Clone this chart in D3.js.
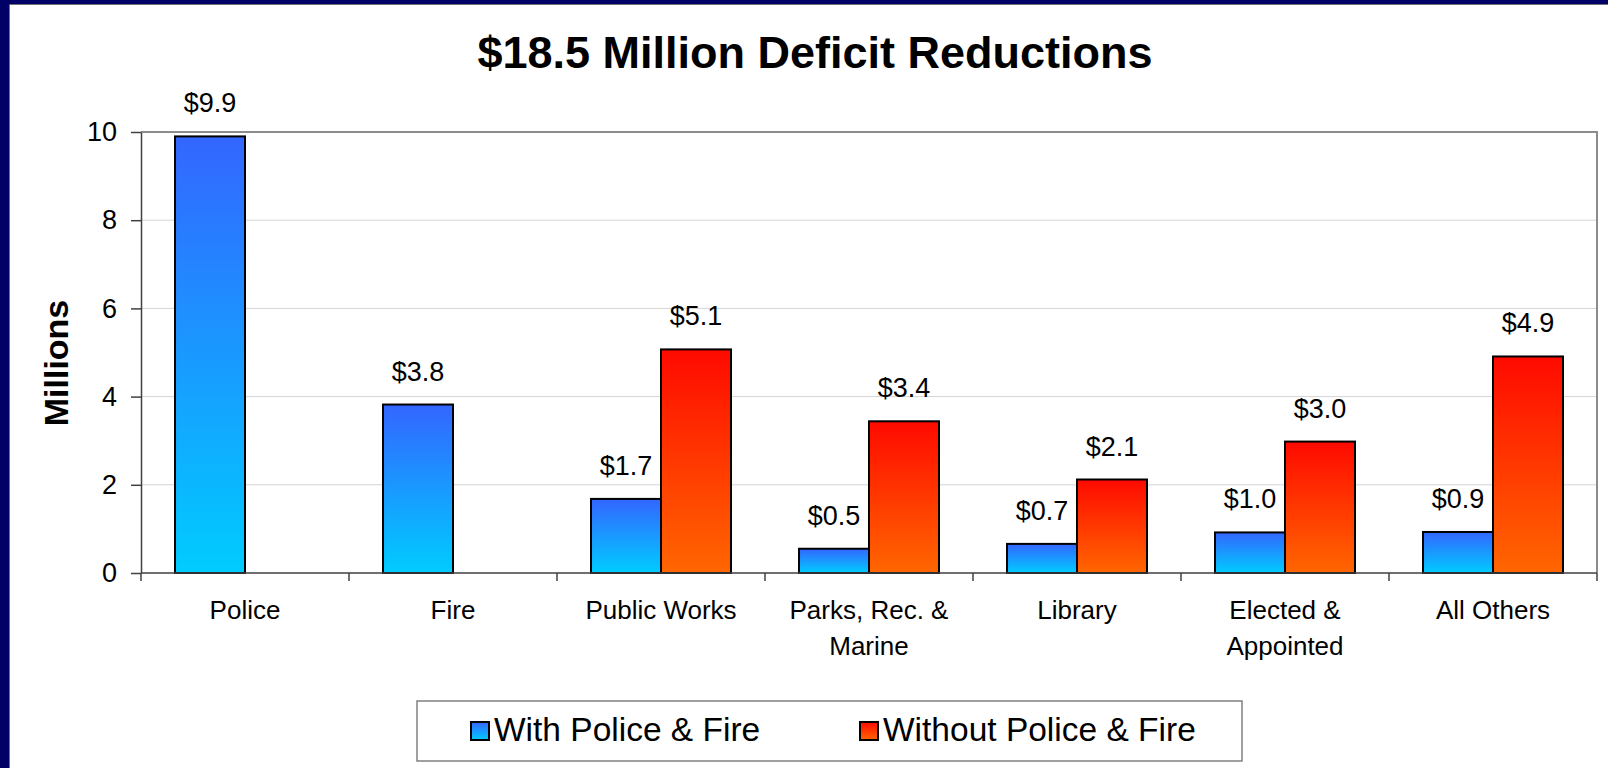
<!DOCTYPE html>
<html>
<head>
<meta charset="utf-8">
<script src="https://cdn.jsdelivr.net/npm/d3@7"></script>
<style>
  body { margin: 0; background: #fff; }
  svg { display: block; font-family: "Liberation Sans", Arial, sans-serif; }
</style>
</head>
<body>
<div id="chart"></div>
<script>
const categories = ['Police', 'Fire', 'Public Works', 'Parks, Rec. &\nMarine', 'Library', 'Elected &\nAppointed', 'All Others'];
const seriesNames = ['With Police & Fire', 'Without Police & Fire'];
const withValues = [9.9, 3.82, 1.68, 0.55, 0.66, 0.92, 0.93];
const withoutValues = [null, null, 5.07, 3.44, 2.12, 2.98, 4.91];
const withLabels = ['$9.9', '$3.8', '$1.7', '$0.5', '$0.7', '$1.0', '$0.9'];
const withoutLabels = ['', '', '$5.1', '$3.4', '$2.1', '$3.0', '$4.9'];
const yTicks = [0, 2, 4, 6, 8, 10];

const width = 1608, height = 768;
const plot = { left: 141, right: 1597, top: 132, bottom: 573 };

const svg = d3.select('#chart').append('svg')
    .attr('width', width)
    .attr('height', height);

const defs = svg.append('defs');
const gradients = [
    { id: 'gradBlue', top: '#3366ff', bottom: '#00ccff' },
    { id: 'gradRed', top: '#ff0a00', bottom: '#ff6600' }
];
gradients.forEach(g => {
    const lg = defs.append('linearGradient')
        .attr('id', g.id)
        .attr('x1', 0).attr('y1', 0).attr('x2', 0).attr('y2', 1);
    lg.append('stop').attr('offset', '0%').attr('stop-color', g.top);
    lg.append('stop').attr('offset', '100%').attr('stop-color', g.bottom);
});

// frame: navy strip left and top
svg.append('rect').attr('width', width).attr('height', height).attr('fill', '#000066');
svg.append('rect').attr('x', 10).attr('y', 5).attr('width', width - 10).attr('height', height - 5).attr('fill', '#fff');
svg.append('path').attr('d', `M9.5,${height}V4.5H${width}`).attr('fill', 'none').attr('stroke', '#707070').attr('stroke-width', 1);

// title
svg.append('text')
    .attr('x', 815).attr('y', 68)
    .attr('text-anchor', 'middle')
    .attr('font-size', 45).attr('font-weight', 'bold')
    .text('$18.5 Million Deficit Reductions');

const x0 = d3.scaleBand().domain(categories).range([plot.left, plot.right]);
const x1 = d3.scaleBand().domain(seriesNames).range([0, x0.bandwidth()]).paddingOuter(0.486);
const y = d3.scaleLinear().domain([0, 10]).range([plot.bottom, plot.top]);

// gridlines
svg.append('g').selectAll('line')
    .data(yTicks.filter(t => t > 0 && t < 10))
    .join('line')
    .attr('x1', plot.left).attr('x2', plot.right)
    .attr('y1', d => y(d)).attr('y2', d => y(d))
    .attr('stroke', '#d4d4d4').attr('stroke-width', 1);

// plot border top/right
svg.append('path')
    .attr('d', `M${plot.left},${y(10)}H${plot.right}V${plot.bottom}`)
    .attr('fill', 'none').attr('stroke', '#8c8c8c').attr('stroke-width', 2);

// y axis
const yAxis = svg.append('g')
    .attr('transform', `translate(${plot.left},0)`)
    .call(d3.axisLeft(y).tickValues(yTicks).tickSize(10).tickPadding(14).tickSizeOuter(0));
yAxis.select('.domain').attr('stroke', '#404040').attr('stroke-width', 1.5);
yAxis.selectAll('.tick line').attr('stroke', '#404040').attr('stroke-width', 1.5);
yAxis.selectAll('.tick text').attr('font-size', 27).attr('fill', '#000')
    .attr('font-family', '"Liberation Sans", Arial, sans-serif');

svg.append('text')
    .attr('transform', 'translate(68,363) rotate(-90)')
    .attr('text-anchor', 'middle')
    .attr('font-size', 34).attr('font-weight', 'bold')
    .text('Millions');

// bars
const rows = categories.map((c, i) => ({
    cat: c,
    bars: [
        { s: seriesNames[0], v: withValues[i], label: withLabels[i], fill: 'url(#gradBlue)' },
        { s: seriesNames[1], v: withoutValues[i], label: withoutLabels[i], fill: 'url(#gradRed)' }
    ].filter(b => b.v != null)
}));

const groups = svg.append('g').selectAll('g')
    .data(rows)
    .join('g')
    .attr('transform', d => `translate(${x0(d.cat)},0)`);

groups.selectAll('rect')
    .data(d => d.bars)
    .join('rect')
    .attr('x', d => x1(d.s))
    .attr('width', x1.bandwidth())
    .attr('y', d => y(d.v))
    .attr('height', d => y(0) - y(d.v))
    .attr('fill', d => d.fill)
    .attr('stroke', '#000').attr('stroke-width', 2);

groups.selectAll('text.val')
    .data(d => d.bars)
    .join('text')
    .attr('class', 'val')
    .attr('x', d => x1(d.s) + x1.bandwidth() / 2)
    .attr('y', d => y(d.v) - 24)
    .attr('text-anchor', 'middle')
    .attr('font-size', 27)
    .text(d => d.label);

// x axis line and boundary ticks
svg.append('line')
    .attr('x1', plot.left).attr('x2', plot.right)
    .attr('y1', plot.bottom).attr('y2', plot.bottom)
    .attr('stroke', '#404040').attr('stroke-width', 1.5);
svg.append('g').selectAll('line')
    .data(categories.map(c => x0(c)).concat([plot.right]))
    .join('line')
    .attr('x1', d => d).attr('x2', d => d)
    .attr('y1', plot.bottom).attr('y2', plot.bottom + 8)
    .attr('stroke', '#404040').attr('stroke-width', 1.5);

// category labels
const catText = svg.append('g').selectAll('text')
    .data(categories)
    .join('text')
    .attr('x', d => x0(d) + x0.bandwidth() / 2)
    .attr('y', 619)
    .attr('text-anchor', 'middle')
    .attr('font-size', 26);
catText.selectAll('tspan')
    .data(d => d.split('\n').map(line => ({ line, x: x0(d) + x0.bandwidth() / 2 })))
    .join('tspan')
    .attr('x', d => d.x)
    .attr('dy', (d, i) => i === 0 ? 0 : 36)
    .text(d => d.line);

// legend
const legend = svg.append('g');
legend.append('rect')
    .attr('x', 417).attr('y', 701).attr('width', 825).attr('height', 60)
    .attr('fill', '#fff').attr('stroke', '#808080').attr('stroke-width', 1.5);
const legendX = [471, 860];
const legendItems = legend.selectAll('g')
    .data(seriesNames)
    .join('g')
    .attr('transform', (d, i) => `translate(${legendX[i]},722)`);
legendItems.append('rect')
    .attr('width', 18).attr('height', 18)
    .attr('fill', (d, i) => i === 0 ? 'url(#gradBlue)' : 'url(#gradRed)')
    .attr('stroke', '#000').attr('stroke-width', 2);
legendItems.append('text')
    .attr('x', 23).attr('y', 19)
    .attr('font-size', 33.5)
    .text(d => d);
</script>
</body>
</html>
